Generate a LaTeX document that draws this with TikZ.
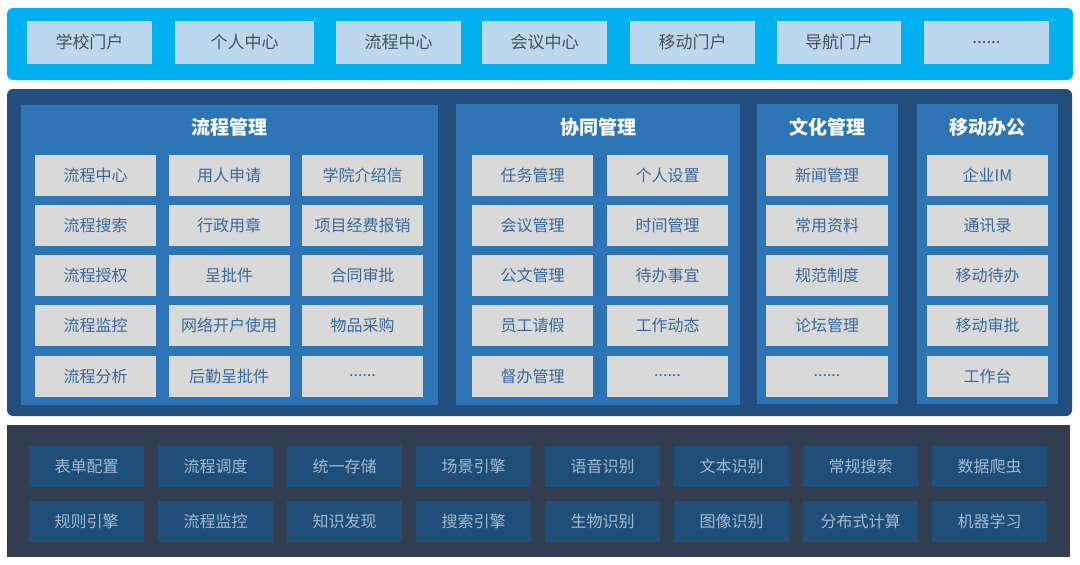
\documentclass[tikz,border=0pt]{standalone}
\usepackage{fontspec}
\setmainfont{Noto Sans CJK SC}
\usepackage{tikz}
\usetikzlibrary{positioning}
\usepackage{xcolor}
\definecolor{bandcyan}{RGB}{0,176,240}
\definecolor{portalfill}{RGB}{189,215,238}
\definecolor{portaltext}{RGB}{70,80,95}
\definecolor{midnavy}{RGB}{33,78,124}
\definecolor{panelblue}{RGB}{46,117,182}
\definecolor{appfill}{RGB}{217,217,217}
\definecolor{apptext}{RGB}{55,105,160}
\definecolor{baseslate}{RGB}{50,62,80}
\definecolor{basefill}{RGB}{31,78,121}
\definecolor{basetext}{RGB}{165,185,210}
\newcommand\moredots{......}
\tikzset{%
	portal box/.style={
		rectangle,
		fill=portalfill,
		text=portaltext,
		minimum height=43pt,
		inner sep=0pt,
		font=\fontsize{17}{19}\selectfont
	},
	app box/.style={
		rectangle,
		fill=appfill,
		text=apptext,
		minimum width=121pt,
		minimum height=41pt,
		inner sep=0pt,
		font=\fontsize{16}{18}\selectfont
	},
	panel title/.style={
		text=white,
		inner sep=0pt,
		font=\fontsize{19}{21}\selectfont\bfseries
	},
	base box/.style={
		rectangle,
		fill=basefill,
		text=basetext,
		minimum width=115pt,
		minimum height=41pt,
		inner sep=0pt,
		font=\fontsize{16}{18}\selectfont
	},
}

\begin{document}
\begin{tikzpicture}[x=1pt,y=-1pt]
	\useasboundingbox (0,0) rectangle (1080,565);
	
	% Draw the portal band
	\fill[bandcyan, rounded corners=6pt] (7,8) rectangle (1073,80);
	\foreach \cx/\w/\t [count=\i] in {89.5/125/学校门户, 244.5/139/个人中心, 398.5/125/流程中心, 544.5/125/会议中心, 692.5/125/移动门户, 839/124/导航门户, 986.5/125/\moredots}
		\node[portal box, minimum width=\w pt] (portal\i) at (\cx,42.5) {\t};
	
	% Draw the application layer
	\fill[midnavy, rounded corners=6pt] (7,89) rectangle (1072,416);
	\fill[panelblue] (21,105) rectangle (438,405);
	\fill[panelblue] (456,104) rectangle (740,405);
	\fill[panelblue] (757,104) rectangle (898,404);
	\fill[panelblue] (917,104) rectangle (1058,404);
	\node[panel title] (flowtitle) at (229.5,127) {流程管理};
	\node[panel title] (coworktitle) at (598,127) {协同管理};
	\node[panel title] (culturetitle) at (827.5,127) {文化管理};
	\node[panel title] (mobiletitle) at (987.5,127) {移动办公};
	
	% 流程管理
	\foreach \t [count=\i from 0] in {流程中心, 用人申请, 学院介绍信, 流程搜索, 行政用章, 项目经费报销, 流程授权, 呈批件, 合同审批, 流程监控, 网络开户使用, 物品采购, 流程分析, 后勤呈批件, \moredots}{
		\pgfmathtruncatemacro\col{mod(\i,3)}
		\pgfmathtruncatemacro\row{div(\i,3)}
		\node[app box] (flow\i) at (95.5+133.5*\col, 175+50.25*\row) {\t};
	}
	
	% 协同管理
	\foreach \t [count=\i from 0] in {任务管理, 个人设置, 会议管理, 时间管理, 公文管理, 待办事宜, 员工请假, 工作动态, 督办管理, \moredots}{
		\pgfmathtruncatemacro\col{mod(\i,2)}
		\pgfmathtruncatemacro\row{div(\i,2)}
		\node[app box] (cowork\i) at (532.5+135*\col, 175+50.25*\row) {\t};
	}
	
	% 文化管理 and 移动办公
	\foreach \t [count=\i from 0] in {新闻管理, 常用资料, 规范制度, 论坛管理, \moredots}
		\node[app box, minimum width=122pt] (culture\i) at (827,175+50.25*\i) {\t};
	\foreach \t [count=\i from 0] in {企业IM, 通讯录, 移动待办, 移动审批, 工作台}
		\node[app box] (mobile\i) at (987.5,175+50.25*\i) {\t};
	
	% Draw the base layer
	\fill[baseslate] (7,425) rectangle (1070,557);
	\foreach \t [count=\i from 0] in {表单配置, 流程调度, 统一存储, 场景引擎, 语音识别, 文本识别, 常规搜索, 数据爬虫}
		\node[base box] (basetop\i) at (86.5+129*\i,466.5) {\t};
	\foreach \t [count=\i from 0] in {规则引擎, 流程监控, 知识发现, 搜索引擎, 生物识别, 图像识别, 分布式计算, 机器学习}
		\node[base box] (basebot\i) at (86.5+129*\i,521) {\t};
\end{tikzpicture}
\end{document}
